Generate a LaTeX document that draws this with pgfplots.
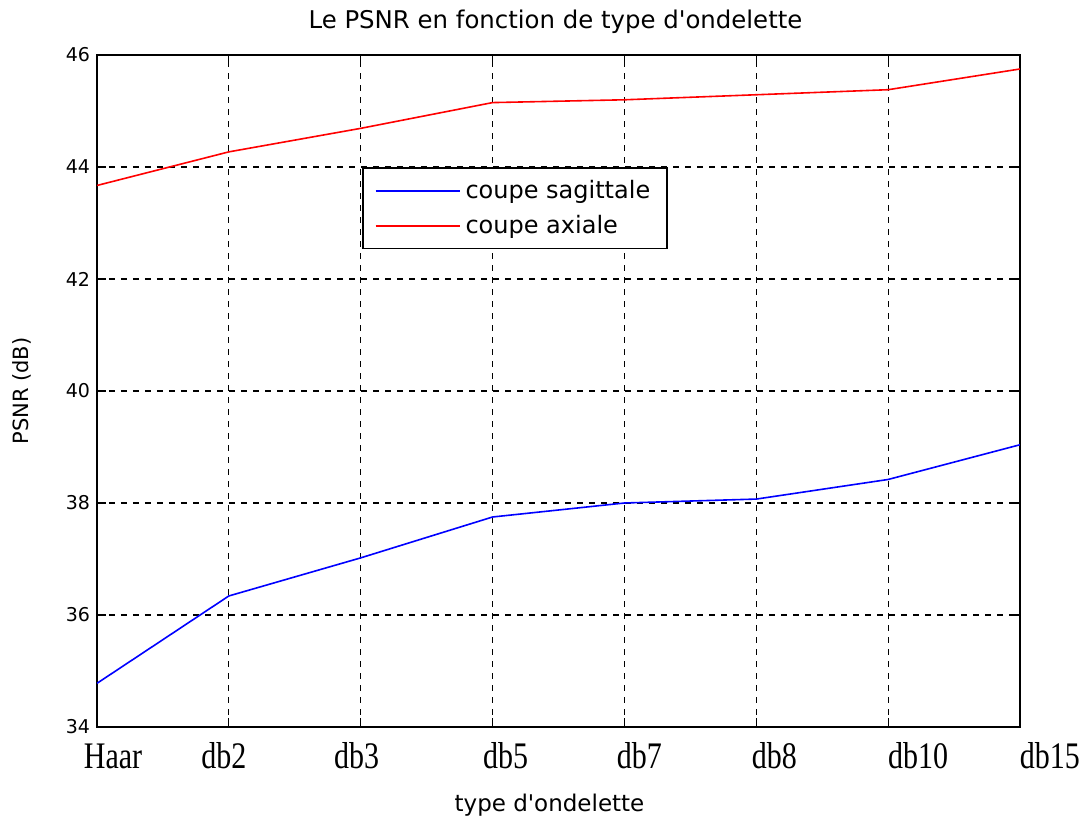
\documentclass[border=0pt]{standalone}
\usepackage{pgfplots}
\pgfplotsset{compat=1.18}
\usepackage{fontspec}
\setmainfont{DejaVu Sans}
\newfontfamily\dv{DejaVu Sans}
\newfontfamily\seriffont{Liberation Serif}
\newcommand{\xl}[2]{\kern#1pt\scalebox{1}[1.25]{#2}}
\begin{document}
\begin{tikzpicture}
\useasboundingbox (-48.5pt,-45.5pt) rectangle (494.5pt,363.5pt);
\begin{axis}[
  at={(0,0)}, anchor=south west,
  scale only axis,
  width=461.5pt, height=336pt,
  xmin=0, xmax=7, ymin=34, ymax=46,
  xtick={0,1,2,3,4,5,6,7},
  xticklabels={\xl{16}{Haar},\xl{-5}{db2},\xl{-4}{db3},\xl{13}{db5},\xl{15}{db7},\xl{18}{db8},\xl{30}{db10},\xl{30}{db15}},
  ytick={34,36,38,40,42,44,46},
  xticklabel style={font=\seriffont\fontsize{15}{15}\selectfont, anchor=center, yshift=-14.5pt},
  yticklabel style={font=\fontsize{9.5}{10}\selectfont},
  /pgf/number format/assume math mode=true,
  grid=major,
  major grid style={black, line width=0.6pt, dash pattern=on 3pt off 3pt},
  axis line style={black, line width=1pt},
  tick style={black, line width=0.6pt},
  tick align=inside,
  title={Le PSNR en fonction de type d'ondelette},
  title style={font=\dv\fontsize{12.2}{13}\selectfont, at={(0.5,1)}, anchor=center, yshift=10.5pt, xshift=-1.5pt},
  xlabel={type d'ondelette},
  xlabel style={font=\dv\fontsize{11.5}{12}\selectfont, at={(0.5,0)}, anchor=center, yshift=-39pt, xshift=-4.5pt},
  ylabel={PSNR (dB)},
  ylabel style={font=\dv\fontsize{10.5}{12}\selectfont, at={(axis description cs:-0.0813,0.5)}, anchor=center},
  legend style={at={(0.287,0.833)}, anchor=north west, draw=black, line width=0.8pt,
    font=\dv\fontsize{12}{14}\selectfont, inner xsep=6pt, inner ysep=4pt, row sep=3pt,
    nodes={inner xsep=2.5pt},
    /tikz/every even column/.append style={column sep=2.5pt}},
  legend cell align=left,
  legend image code/.code={\draw[#1, line width=0.9pt] (0cm,0cm) -- (42pt,0cm);},
]
\addplot[color=blue, line width=0.8pt] coordinates {
(0,34.78) (1,36.34) (2,37.02) (3,37.75) (4,38.00) (5,38.07) (6,38.42) (7,39.04)};
\addlegendentry{coupe sagittale}
\addplot[color=red, line width=0.8pt] coordinates {
(0,43.67) (1,44.27) (2,44.69) (3,45.15) (4,45.20) (5,45.29) (6,45.38) (7,45.75)};
\addlegendentry{coupe axiale}
\end{axis}
\end{tikzpicture}
\end{document}
